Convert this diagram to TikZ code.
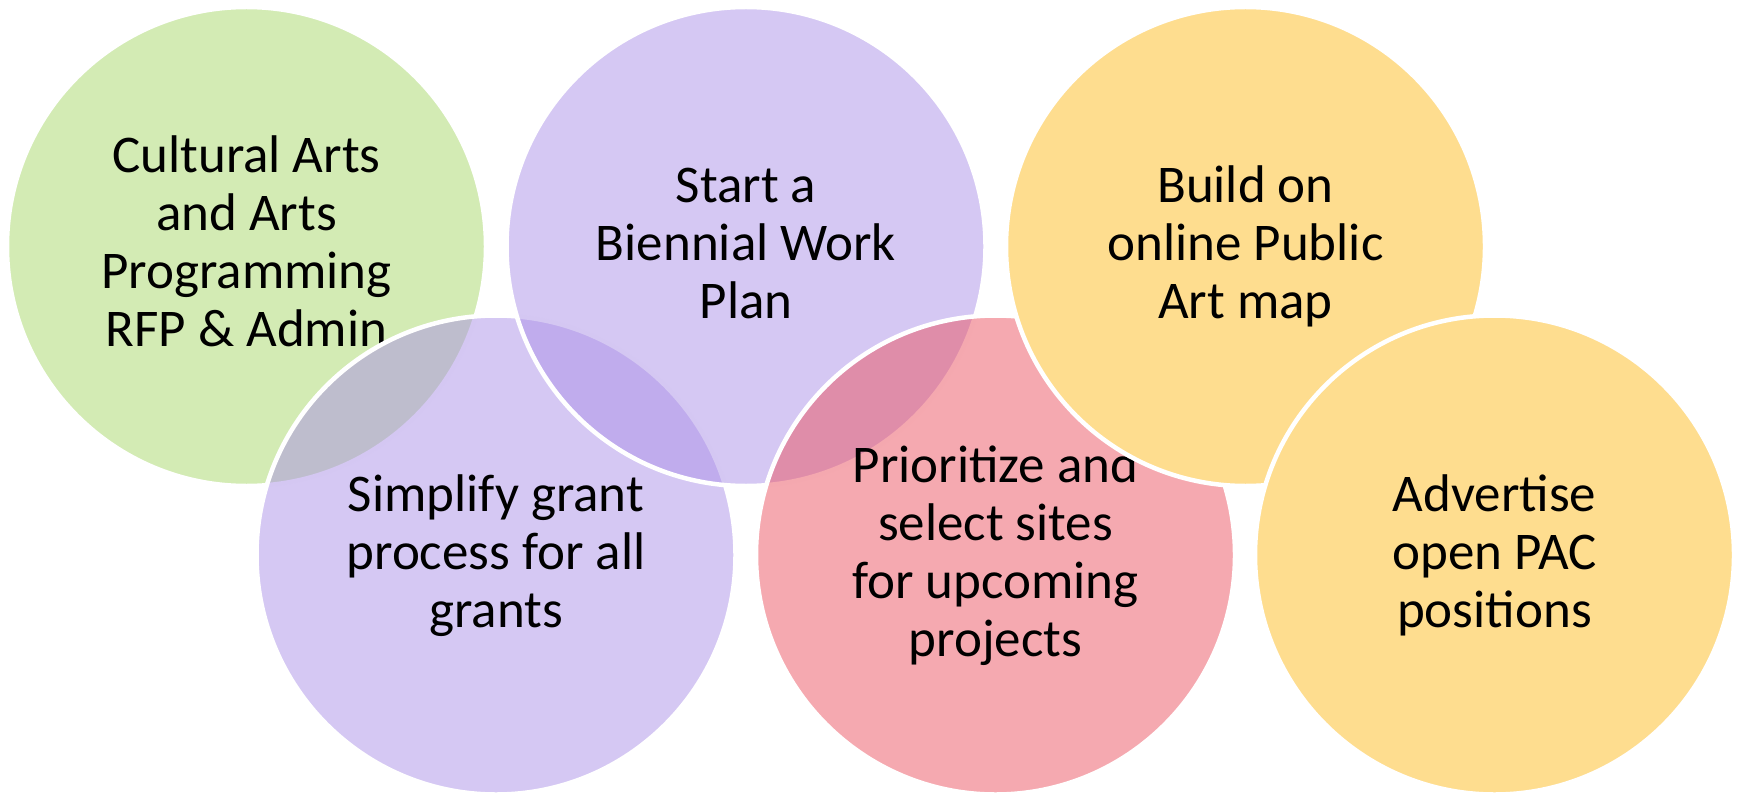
\documentclass[tikz,border=0pt]{standalone}
\usepackage{fontspec}
\setmainfont{Carlito}
\definecolor{cgreen}{RGB}{211,235,180}
\definecolor{cpurple}{RGB}{171,145,231}
\definecolor{cpink}{RGB}{235,83,97}
\definecolor{corange}{RGB}{254,221,143}
\begin{document}
\begin{tikzpicture}[x=1pt,y=-1pt,
  circ/.style={circle, minimum size=479pt, inner sep=0pt, outer sep=0pt, draw=white, line width=4.5pt},
  lbl/.style={anchor=base, inner sep=0pt, outer sep=0pt, font=\fontsize{53}{58}\selectfont}]
\useasboundingbox (0,0) rectangle (1744,794);
% 1: green (top left)
\node[circ, fill=cgreen] (c1) at (246.5,246.5) {};
\node[lbl] (t1) at (246.5,173) {\begin{tabular}[t]{@{}c@{}}Cultural Arts\\and Arts\\Programming\\RFP \& Admin\end{tabular}};
% 2: purple (bottom left)
\node[circ, fill=cpurple, fill opacity=0.5] (c2) at (496,555) {};
\node[lbl] (t2) at (496,511) {\begin{tabular}[t]{@{}c@{}}Simplify grant\\process for all\\grants\end{tabular}};
% 3: purple (top middle)
\node[circ, fill=cpurple, fill opacity=0.5] (c3) at (746,246.5) {};
\node[lbl] (t3) at (746,203) {\begin{tabular}[t]{@{}c@{}}Start a\\Biennial Work\\Plan\end{tabular}};
% 4: pink (bottom middle)
\node[circ, fill=cpink, fill opacity=0.5] (c4) at (995.5,555) {};
\node[lbl] (t4) at (995.5,482) {\begin{tabular}[t]{@{}c@{}}Prioritize and\\select sites\\for upcoming\\projects\end{tabular}};
% 5: orange (top right)
\node[circ, fill=corange] (c5) at (1245.5,246.5) {};
\node[lbl] (t5) at (1245.5,203) {\begin{tabular}[t]{@{}c@{}}Build on\\online Public\\Art map\end{tabular}};
% 6: orange (bottom right)
\node[circ, fill=corange] (c6) at (1494.5,555) {};
\node[lbl] (t6) at (1494.5,511) {\begin{tabular}[t]{@{}c@{}}Advertise\\open PAC\\positions\end{tabular}};
\end{tikzpicture}
\end{document}
